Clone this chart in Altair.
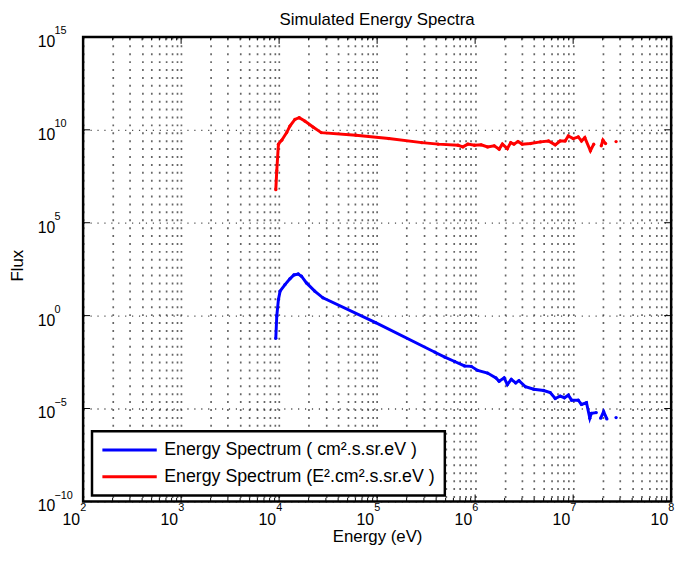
import altair as alt
import pandas as pd

FONT = "Liberation Sans"

# ---- data (log10 of energy in eV, log10 of flux); None marks a gap in the curve
blue_log_energy = [3.966, 3.976, 3.993, 4.010, 4.060, 4.110, 4.151, 4.195, 4.228, 4.279,
                   4.363, 4.447, 4.985, 5.590, 5.690, 5.791, 5.892, 5.960, 6.026, 6.127,
                   6.212, 6.245, 6.296, 6.329, 6.369, 6.414, 6.447, 6.514, 6.598, 6.699,
                   6.766, 6.817, 6.867, 6.911, 6.951, 6.984, 7.052, 7.085, 7.136, 7.170,
                   7.186, 7.236, None, 7.281, 7.311, 7.344, None, 7.438]
blue_log_flux = [-1.22, -0.02, 0.87, 1.32, 1.67, 1.98, 2.19, 2.24, 2.12, 1.76,
                 1.32, 0.96, -0.38, -1.97, -2.23, -2.47, -2.71, -2.73, -2.95, -3.09,
                 -3.35, -3.53, -3.35, -3.71, -3.43, -3.62, -3.50, -3.83, -3.96, -4.03,
                 -4.14, -4.46, -4.33, -4.42, -4.28, -4.55, -4.55, -4.78, -4.69, -5.52,
                 -5.26, -5.22, None, -5.52, -5.17, -5.56, None, -5.49]

red_log_energy = [3.966, 3.976, 3.993, 4.027, 4.077, 4.110, 4.161, 4.205, 4.262, 4.346,
                  4.430, 4.783, 5.119, 5.456, 5.623, 5.825, 5.875, 5.926, 5.993, 6.061,
                  6.127, 6.195, 6.245, 6.278, 6.329, 6.363, 6.396, 6.437, 6.480, 6.565,
                  6.666, 6.749, 6.817, 6.867, 6.918, 6.951, 7.001, 7.052, 7.085, 7.119,
                  7.176, 7.210, None, 7.287, 7.304, 7.331, None, 7.438]
red_log_flux = [6.78, 7.80, 9.23, 9.44, 9.85, 10.20, 10.56, 10.65, 10.47, 10.15,
                9.85, 9.71, 9.53, 9.31, 9.23, 9.17, 9.08, 9.23, 9.17, 9.19,
                9.08, 9.14, 8.96, 9.23, 8.99, 9.31, 9.23, 9.37, 9.23, 9.26,
                9.35, 9.40, 9.19, 9.40, 9.40, 9.67, 9.53, 9.62, 9.40, 9.58,
                8.87, 9.23, None, 9.14, 9.44, 9.26, None, 9.37]

series_names = ["Energy Spectrum ( cm².s.sr.eV )", "Energy Spectrum (E².cm².s.sr.eV )"]
series_colors = ["#0000ff", "#ff0000"]

x_decades = [2, 3, 4, 5, 6, 7, 8]
y_decades = [-10, -5, 0, 5, 10, 15]
y_exp_labels = ["−10", "−5", "0", "5", "10", "15"]
x_exp_labels = ["2", "3", "4", "5", "6", "7", "8"]

title_text = ["Simulated Energy Spectra"]
x_title = "Energy (eV)"
y_title = "Flux"


def build(name, log_e, log_f):
    rows, seg = [], 0
    for a, b in zip(log_e, log_f):
        if a is None or b is None:
            seg += 1
            continue
        rows.append({"e": 10 ** a, "f": 10 ** b, "series": name, "seg": f"{name}-{seg}"})
    return rows


df = pd.DataFrame(build(series_names[0], blue_log_energy, blue_log_flux)
                  + build(series_names[1], red_log_energy, red_log_flux))

W, H = 595, 470

major_x = [10.0 ** d for d in x_decades]
minor_x = [k * 10.0 ** n for n in x_decades[:-1] for k in range(2, 10)]
grid_x = sorted(major_x + minor_x)
major_y = [10.0 ** d for d in y_decades]

xs = alt.Scale(type="log", domain=[1e2, 1e8], nice=False)
ys = alt.Scale(type="log", domain=[1e-10, 1e15], nice=False)

x_axis = alt.Axis(values=grid_x, grid=True, gridColor="#000000", gridOpacity=0.6,
                  gridDash=[2, 6], gridWidth=1.7, labels=False, ticks=False,
                  domain=False, title=x_title, titleFont=FONT, titleFontSize=17,
                  titleFontWeight="normal", titleColor="black", titleY=41,
                  titleBaseline="alphabetic")
y_axis = alt.Axis(values=major_y, grid=True, gridColor="#000000", gridOpacity=0.7,
                  gridDash=[1.2, 5.8], gridWidth=1.3, labels=False, ticks=False,
                  domain=False, title=y_title, titleFont=FONT, titleFontSize=17,
                  titleFontWeight="normal", titleColor="black", titleX=-61, titleY=231,
                  titleAngle=-90, titleAlign="center", titleBaseline="alphabetic")

X = alt.X("e:Q", scale=xs, axis=x_axis)
Y = alt.Y("f:Q", scale=ys, axis=y_axis)

color_scale = alt.Scale(domain=series_names, range=series_colors)

lines = alt.Chart(df).mark_line(strokeWidth=3).encode(
    x=X, y=Y,
    color=alt.Color("series:N", scale=color_scale, sort=series_names,
                    legend=alt.Legend(title=None, orient="none", legendX=9, legendY=399,
                                      strokeColor="black", fillColor="white", padding=9,
                                      symbolType="stroke", symbolStrokeWidth=3,
                                      symbolSize=3025, clipHeight=20, rowPadding=7,
                                      labelFont=FONT, labelFontSize=18, labelColor="black",
                                      labelOffset=6, labelLimit=500)),
    detail="seg:N",
)
points = alt.Chart(df).mark_circle(size=11, opacity=1).encode(
    x=X, y=Y, color=alt.Color("series:N", scale=color_scale, legend=None)
)

xmaj_df = pd.DataFrame({"e": major_x})
xmin_df = pd.DataFrame({"e": minor_x})
ymaj_df = pd.DataFrame({"f": major_y})

tick_style = dict(color="black", strokeWidth=1)
ticks = [
    alt.Chart(xmaj_df).mark_rule(**tick_style).encode(x=X, y=alt.value(H), y2=alt.value(H - 7)),
    alt.Chart(xmaj_df).mark_rule(**tick_style).encode(x=X, y=alt.value(0), y2=alt.value(7)),
    alt.Chart(xmin_df).mark_rule(**tick_style).encode(x=X, y=alt.value(H), y2=alt.value(H - 3.5)),
    alt.Chart(xmin_df).mark_rule(**tick_style).encode(x=X, y=alt.value(0), y2=alt.value(3.5)),
    alt.Chart(ymaj_df).mark_rule(**tick_style).encode(y=Y, x=alt.value(0), x2=alt.value(7)),
    alt.Chart(ymaj_df).mark_rule(**tick_style).encode(y=Y, x=alt.value(W), x2=alt.value(W - 7)),
]

xlab_df = pd.DataFrame({"e": major_x, "base": ["10"] * len(major_x), "exp": x_exp_labels})
ylab_df = pd.DataFrame({"f": major_y, "base": ["10"] * len(major_y), "exp": y_exp_labels})
title_df = pd.DataFrame({"t": title_text})

labels = [
    alt.Chart(xlab_df).mark_text(align="right", baseline="alphabetic", dx=-3, font=FONT,
                                 fontSize=16, color="black")
    .encode(x=X, y=alt.value(H + 24), text="base:N"),
    alt.Chart(xlab_df).mark_text(align="left", baseline="alphabetic", dx=-3, font=FONT,
                                 fontSize=11, color="black")
    .encode(x=X, y=alt.value(H + 10), text="exp:N"),
    alt.Chart(ylab_df).mark_text(align="left", baseline="alphabetic", dy=10, font=FONT,
                                 fontSize=16, color="black")
    .encode(y=Y, x=alt.value(-46), text="base:N"),
    alt.Chart(ylab_df).mark_text(align="left", baseline="alphabetic", dy=-2.5, font=FONT,
                                 fontSize=11, color="black")
    .encode(y=Y, x=alt.value(-29), text="exp:N"),
    alt.Chart(title_df).mark_text(align="center", baseline="alphabetic", font=FONT,
                                  fontSize=17, color="black")
    .encode(x=alt.value(W / 2), y=alt.value(-12), text="t:N"),
]

chart = alt.layer(*ticks, *labels, lines, points).properties(
    width=W, height=H,
    autosize=alt.AutoSizeParams(type="none"),
    padding={"left": 76, "top": 26, "right": 13, "bottom": 55},
    background="white",
).configure_view(stroke="black", strokeWidth=2.5).configure_legend(strokeWidth=2.5)

chart.save("out.html", embed_options={"renderer": "svg", "actions": False})
